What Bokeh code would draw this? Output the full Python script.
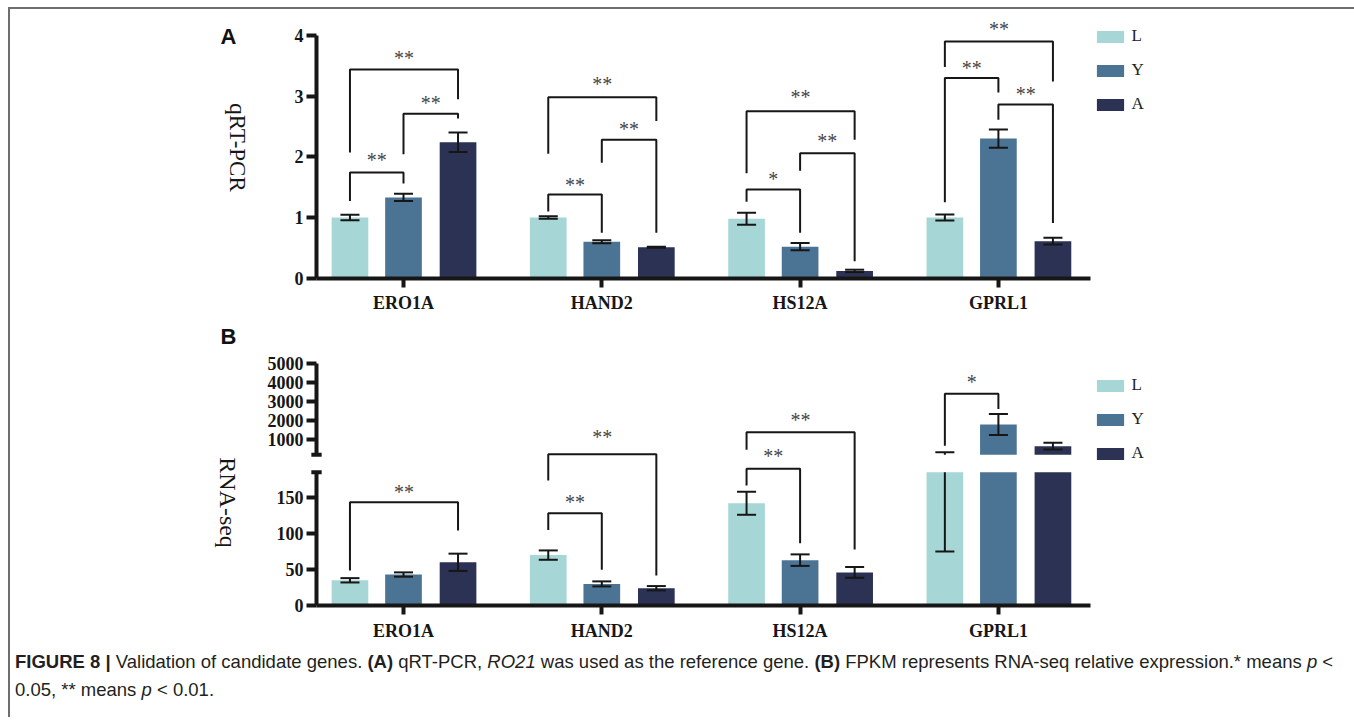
import math
import numpy as np
from bokeh.plotting import figure
from bokeh.models import Range1d, FixedTicker, Legend, LegendItem, Label, Div, LinearAxis
from bokeh.layouts import column
from bokeh.core.properties import value
from bokeh.embed import file_html
from bokeh.resources import INLINE

# ---------------- data ----------------
genes = ["ERO1A", "HAND2", "HS12A", "GPRL1"]
groups = ["L", "Y", "A"]
colors = ["#a6d6d6", "#4b7494", "#2b3253"]

qpcr_L = [1.00, 1.00, 0.98, 1.00]
qpcr_Y = [1.33, 0.60, 0.52, 2.30]
qpcr_A = [2.24, 0.51, 0.12, 0.61]
qpcr_L_err = [0.045, 0.02, 0.10, 0.05]
qpcr_Y_err = [0.06, 0.025, 0.06, 0.15]
qpcr_A_err = [0.16, 0.01, 0.02, 0.055]

rnaseq_L = [35, 70, 142, 200]
rnaseq_Y = [43, 30, 63, 1790]
rnaseq_A = [60, 24, 46, 650]
rnaseq_L_err = [3, 6.5, 16, 125]
rnaseq_Y_err = [3, 3.5, 8, 550]
rnaseq_A_err = [12, 3, 7.5, 180]

qpcr_ticks = [0, 1, 2, 3, 4]
rnaseq_low_ticks = [0, 50, 100, 150]
rnaseq_high_ticks = [1000, 2000, 3000, 4000, 5000]

# significance: (gene index, group a, group b, label)
qpcr_sig = [(0, 0, 1, "**"), (0, 1, 2, "**"), (0, 0, 2, "**"),
            (1, 0, 1, "**"), (1, 1, 2, "**"), (1, 0, 2, "**"),
            (2, 0, 1, "*"), (2, 1, 2, "**"), (2, 0, 2, "**"),
            (3, 0, 1, "**"), (3, 1, 2, "**"), (3, 0, 2, "**")]
rnaseq_sig = [(0, 0, 2, "**"), (1, 0, 1, "**"), (1, 0, 2, "**"),
              (2, 0, 1, "**"), (2, 0, 2, "**"), (3, 0, 1, "*")]

# ---------------- layout / positions ----------------
FIG_W = 1340
H_A, H_B = 313, 327
X_RANGE = (-1.98185, 4.77559)          # whole canvas width
AXIS_X = -0.43873                      # y-axis position
X_END = 3.46445                        # end of x-axis line
A_RANGE = (-0.72982, 4.42669)
LOW_RANGE = (-61.111, 393.056)
UP_RANGE = (-10052.7, 7157.9)
LOW_TOP = 185
UP_BOTTOM = 200
UP_TOP = 5000

OFFSETS = [-0.27, 0.0, 0.275]
BAR_W = 0.185
CAP_HALF = 0.048
INK = "#161616"
SERIF = "Liberation Serif"

# bracket geometry (bar level, left leg bottom, right leg bottom, label y)
qpcr_brackets = [(1.74, 1.27, 1.56, 1.94), (2.71, 2.04, 2.63, 2.89), (3.44, 2.07, 2.95, 3.63),
                 (1.38, 1.10, 0.75, 1.54), (2.28, 1.90, 0.75, 2.45), (2.98, 2.05, 2.59, 3.20),
                 (1.46, 1.26, 0.75, 1.63), (2.06, 1.77, 0.28, 2.26), (2.75, 1.73, 2.28, 2.98),
                 (3.30, 1.25, 3.06, 3.47), (2.86, 2.61, 0.91, 3.03), (3.90, 3.48, 3.24, 4.11)]
rnaseq_brackets = [(143.5, 48.6, 104, 158), (128, 105, 49.5, 144), (210, 173.6, 41.7, 234),
                   (190, 166.7, 86.5, 207), (240.7, 216.3, 77.8, 257), (294, 222, 273, 311)]


def style_axis(ax, tick_out):
    ax.axis_line_width = 4
    ax.axis_line_color = INK
    ax.major_tick_line_width = 4
    ax.major_tick_line_color = INK
    ax.major_tick_out = tick_out
    ax.major_tick_in = 0
    ax.minor_tick_line_color = None
    ax.major_label_text_font = SERIF
    ax.major_label_text_font_style = "bold"
    ax.major_label_text_font_size = "18px"
    ax.major_label_text_color = INK


def base_fig(height, y_range):
    p = figure(width=FIG_W, height=height, x_range=Range1d(*X_RANGE), y_range=y_range,
               output_backend="svg", toolbar_location=None,
               x_axis_location=None, y_axis_location=None,
               min_border=0, min_border_left=0, min_border_right=0,
               min_border_top=0, min_border_bottom=0,
               background_fill_color="white", border_fill_color="white",
               outline_line_color=None)
    p.grid.visible = False
    xa = LinearAxis(fixed_location=0, bounds=(AXIS_X, X_END),
                    ticker=FixedTicker(ticks=list(range(len(genes)))),
                    major_label_overrides={i: g for i, g in enumerate(genes)})
    style_axis(xa, 9)
    xa.major_label_standoff = 6
    p.add_layout(xa, "below")
    return p


def add_yaxis(p, ticks, bounds, range_name="default"):
    ya = LinearAxis(fixed_location=AXIS_X, bounds=bounds, ticker=FixedTicker(ticks=ticks),
                    y_range_name=range_name)
    style_axis(ya, 10)
    ya.major_label_standoff = 3
    p.add_layout(ya, "left")
    return ya


def add_brackets(p, sig, geom):
    xs, ys, tx, ty, tt = [], [], [], [], []
    for (g, a, b, lab), (h, la, lb, ly) in zip(sig, geom):
        x0, x1 = g + OFFSETS[a], g + OFFSETS[b]
        xs.append([x0, x0, x1, x1])
        ys.append([la, h, h, lb])
        tx.append((x0 + x1) / 2)
        ty.append(ly)
        tt.append(lab)
    p.multi_line(xs=xs, ys=ys, line_color=INK, line_width=2)
    p.text(x=tx, y=ty, text=tt, text_font=value(SERIF), text_font_size="20px",
           text_align="center", text_baseline="middle", text_color="#454545")


def add_legend(p, renderers, loc):
    items = [LegendItem(label=g, renderers=[r]) for g, r in zip(groups, renderers)]
    lg = Legend(items=items, location=loc, orientation="vertical",
                glyph_width=34, glyph_height=15, label_height=15, label_standoff=5,
                spacing=14, padding=0, margin=0, border_line_color=None,
                background_fill_alpha=0, label_text_font=SERIF,
                label_text_font_size="17px", label_text_color="#222222")
    p.add_layout(lg)


def err_segments(xc, m, e, lo_lim, hi_lim):
    """vertical segment and caps of one error bar, restricted to [lo_lim, hi_lim]"""
    lo, hi = m - e, m + e
    segs = []
    if hi > lo_lim and lo < hi_lim:
        segs.append((xc, max(lo, lo_lim), xc, min(hi, hi_lim)))
        if lo >= lo_lim:
            segs.append((xc - CAP_HALF, lo, xc + CAP_HALF, lo))
        if hi <= hi_lim:
            segs.append((xc - CAP_HALF, hi, xc + CAP_HALF, hi))
    return segs


def draw_segs(p, segs, **kw):
    if not segs:
        return
    a = np.array(segs, dtype=float)
    p.segment(x0=a[:, 0], y0=a[:, 1], x1=a[:, 2], y1=a[:, 3], line_color=INK, line_width=2, **kw)


# ---------------- panel A ----------------
pA = base_fig(H_A, Range1d(*A_RANGE))
add_yaxis(pA, qpcr_ticks, (0, 4))

rendA, segsA = [], []
for gi, (vals, errs) in enumerate([(qpcr_L, qpcr_L_err), (qpcr_Y, qpcr_Y_err), (qpcr_A, qpcr_A_err)]):
    xs = [i + OFFSETS[gi] for i in range(len(genes))]
    r = pA.vbar(x=xs, top=vals, bottom=0, width=BAR_W, fill_color=colors[gi], line_color=None)
    rendA.append(r)
    for x, m, e in zip(xs, vals, errs):
        segsA += err_segments(x, m, e, 0, 1e9)
draw_segs(pA, segsA)
add_brackets(pA, qpcr_sig, qpcr_brackets)
add_legend(pA, rendA, (1082.6, 208))

pA.add_layout(Label(x=-0.837, y=2.153, text="qRT-PCR", angle=-math.pi / 2,
                    text_align="center", text_baseline="middle", text_font=SERIF,
                    text_font_size="23px", text_color=INK))
pA.add_layout(Label(x=-0.8825, y=3.982, text="A", text_align="center", text_baseline="middle",
                    text_font="Liberation Sans", text_font_style="bold",
                    text_font_size="22px", text_color="#111111"))

# ---------------- panel B (broken axis) ----------------
pB = base_fig(H_B, Range1d(*LOW_RANGE))
pB.extra_y_ranges = {"upper": Range1d(*UP_RANGE)}
add_yaxis(pB, rnaseq_low_ticks, (0, LOW_TOP))
add_yaxis(pB, rnaseq_high_ticks, (UP_BOTTOM, UP_TOP), "upper")

rendB, low_segs, up_segs = [], [], []
for gi, (vals, errs) in enumerate([(rnaseq_L, rnaseq_L_err), (rnaseq_Y, rnaseq_Y_err), (rnaseq_A, rnaseq_A_err)]):
    xs = [i + OFFSETS[gi] for i in range(len(genes))]
    r = pB.vbar(x=xs, top=np.minimum(vals, LOW_TOP), bottom=0, width=BAR_W,
                fill_color=colors[gi], line_color=None)
    rendB.append(r)
    ux = [x for x, v in zip(xs, vals) if v > UP_BOTTOM]
    uv = [v for v in vals if v > UP_BOTTOM]
    if ux:
        pB.vbar(x=ux, top=uv, bottom=UP_BOTTOM, width=BAR_W, fill_color=colors[gi],
                line_color=None, y_range_name="upper")
    for x, m, e in zip(xs, vals, errs):
        low_segs += err_segments(x, m, e, 0, LOW_TOP)
        up_segs += err_segments(x, m, e, UP_BOTTOM, UP_TOP)
draw_segs(pB, low_segs)
draw_segs(pB, up_segs, y_range_name="upper")

# caps at the axis break
pB.segment(x0=[AXIS_X - 0.026], y0=[LOW_TOP], x1=[AXIS_X + 0.026], y1=[LOW_TOP],
           line_color=INK, line_width=4)
pB.segment(x0=[AXIS_X - 0.026], y0=[UP_BOTTOM], x1=[AXIS_X + 0.026], y1=[UP_BOTTOM],
           line_color=INK, line_width=4, y_range_name="upper")

add_brackets(pB, rnaseq_sig, rnaseq_brackets)
add_legend(pB, rendB, (1082.6, 186))

pB.add_layout(Label(x=-0.8875, y=143, text="RNA-seq", angle=-math.pi / 2,
                    text_align="center", text_baseline="middle", text_font=SERIF,
                    text_font_size="24px", text_color=INK))
pB.add_layout(Label(x=-0.8825, y=373.6, text="B", text_align="center", text_baseline="middle",
                    text_font="Liberation Sans", text_font_style="bold",
                    text_font_size="22px", text_color="#111111"))

# ---------------- caption ----------------
caption = Div(
    text=("<div style=\"font-family:'Liberation Sans',Arial,sans-serif;font-size:18.5px;"
          "line-height:28px;color:#231f20;margin-left:0px;margin-top:-6px;white-space:nowrap\">"
          "<b>FIGURE 8 |</b> Validation of candidate genes. <b>(A)</b> qRT-PCR, <i>RO21</i> was used "
          "as the reference gene. <b>(B)</b> FPKM represents RNA-seq relative expression.* means "
          "<i>p</i> &lt;<br>0.05, ** means <i>p</i> &lt; 0.01.</div>"),
    width=FIG_W, height=58)

layout = column(pA, pB, caption, spacing=0,
                styles={"margin-left": "8px", "margin-top": "7px",
                        "border-top": "2px solid #6e6e6e", "border-left": "2px solid #6e6e6e",
                        "border-right": "2px solid #6e6e6e"})

open("out.html", "w").write(file_html(layout, INLINE))
